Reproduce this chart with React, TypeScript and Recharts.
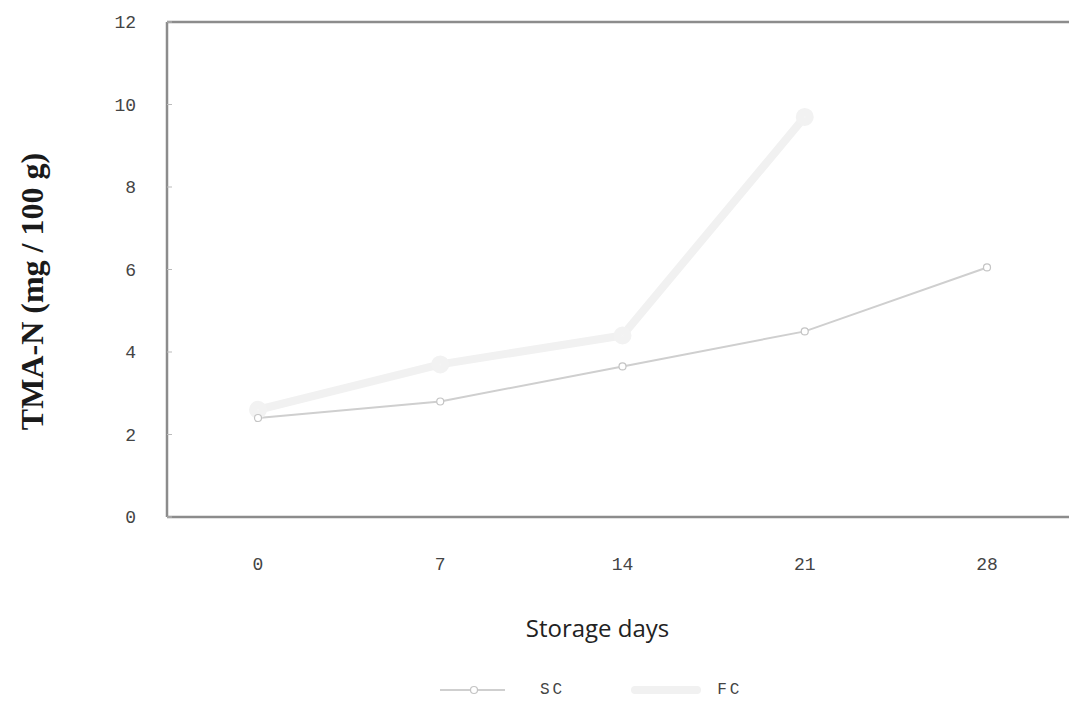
import React from 'react';
import { LineChart, Line, XAxis, YAxis, ReferenceLine, Legend, Label } from 'recharts';

const days = ['0', '7', '14', '21', '28'];
const scValues = [2.4, 2.8, 3.65, 4.5, 6.05];
const fcValues: (number | null)[] = [2.6, 3.7, 4.4, 9.7, null];
const yTicks = [0, 2, 4, 6, 8, 10, 12];
const seriesNames = ['SC', 'FC'];

const data = days.map((d, i) => ({ day: d, SC: scValues[i], FC: fcValues[i] }));

const SC_COLOR = '#cfcfcf';
const FC_COLOR = '#f1f1f1';
const FRAME = '#8c8c8c';
const monoFont = '"Liberation Mono", "DejaVu Sans Mono", monospace';

const YTitle = (props: any) => {
  const vb = props.viewBox || {};
  const cx = vb.x + 43;
  const cy = vb.y + vb.height / 2 + 22;
  return (
    <text
      x={cx}
      y={cy}
      transform={`rotate(-90, ${cx}, ${cy})`}
      textAnchor="middle"
      style={{ fontFamily: '"Liberation Serif", "Times New Roman", serif', fontWeight: 700, fontSize: 32, fill: '#1a1a1a' }}
    >
      TMA-N (mg / 100 g)
    </text>
  );
};

const LegendContent = () => (
  <div style={{ display: 'flex', alignItems: 'center', paddingLeft: 440, fontFamily: monoFont, fontSize: 16, color: '#444', letterSpacing: 3 }}>
    <svg width={65} height={14}>
      <line x1={0} y1={7} x2={65} y2={7} stroke={SC_COLOR} strokeWidth={2} />
      <circle cx={34} cy={7} r={3.5} fill="#fff" stroke="#c4c4c4" strokeWidth={1.2} />
    </svg>
    <span style={{ marginLeft: 35 }}>{seriesNames[0]}</span>
    <svg width={70} height={14} style={{ marginLeft: 66 }}>
      <line x1={4} y1={7} x2={66} y2={7} stroke={FC_COLOR} strokeWidth={8} strokeLinecap="round" />
    </svg>
    <span style={{ marginLeft: 16 }}>{seriesNames[1]}</span>
  </div>
);

export default function App() {
  return (
    <div style={{ position: 'absolute', left: 0, top: 0, width: 1069, height: 708, background: '#fff' }}>
      <LineChart width={1069} height={708} data={data} margin={{ top: 22, right: -9, left: 0, bottom: 71 }}>
        <XAxis
          dataKey="day"
          padding={{ left: 91, right: 91 }}
          height={120}
          tickLine={false}
          tickMargin={34}
          axisLine={{ stroke: FRAME, strokeWidth: 2.5 }}
          tick={{ fontFamily: monoFont, fontSize: 18, fill: '#444' }}
        >
          <Label
            value="Storage days"
            position="insideBottom"
            offset={0}
            dx={-25}
            style={{ fontFamily: '"Open Sans", "Noto Sans", sans-serif', fontSize: 24, fill: '#222' }}
          />
        </XAxis>
        <YAxis
          width={167}
          domain={[0, 12]}
          ticks={yTicks}
          interval={0}
          tickSize={-5}
          tickMargin={36}
          tickLine={{ stroke: '#bbbbbb' }}
          axisLine={{ stroke: FRAME, strokeWidth: 2.5 }}
          tick={{ fontFamily: monoFont, fontSize: 18, fill: '#444' }}
        >
          <Label content={<YTitle />} />
        </YAxis>
        <ReferenceLine y={12} stroke={FRAME} strokeWidth={2.5} ifOverflow="extendDomain" />
        <Line
          type="linear"
          dataKey="FC"
          stroke={FC_COLOR}
          strokeWidth={8}
          dot={{ r: 5, fill: '#f4f4f4', stroke: '#f2f2f2' }}
          connectNulls={false}
          isAnimationActive={false}
        />
        <Line
          type="linear"
          dataKey="SC"
          stroke={SC_COLOR}
          strokeWidth={2}
          dot={{ r: 3.5, fill: '#fff', stroke: '#c4c4c4', strokeWidth: 1.2 }}
          isAnimationActive={false}
        />
        <Legend
          layout="horizontal"
          verticalAlign="middle"
          align="center"
          content={<LegendContent />}
          wrapperStyle={{ position: 'absolute', top: 681, left: 0, width: 1069 }}
        />
      </LineChart>
    </div>
  );
}
